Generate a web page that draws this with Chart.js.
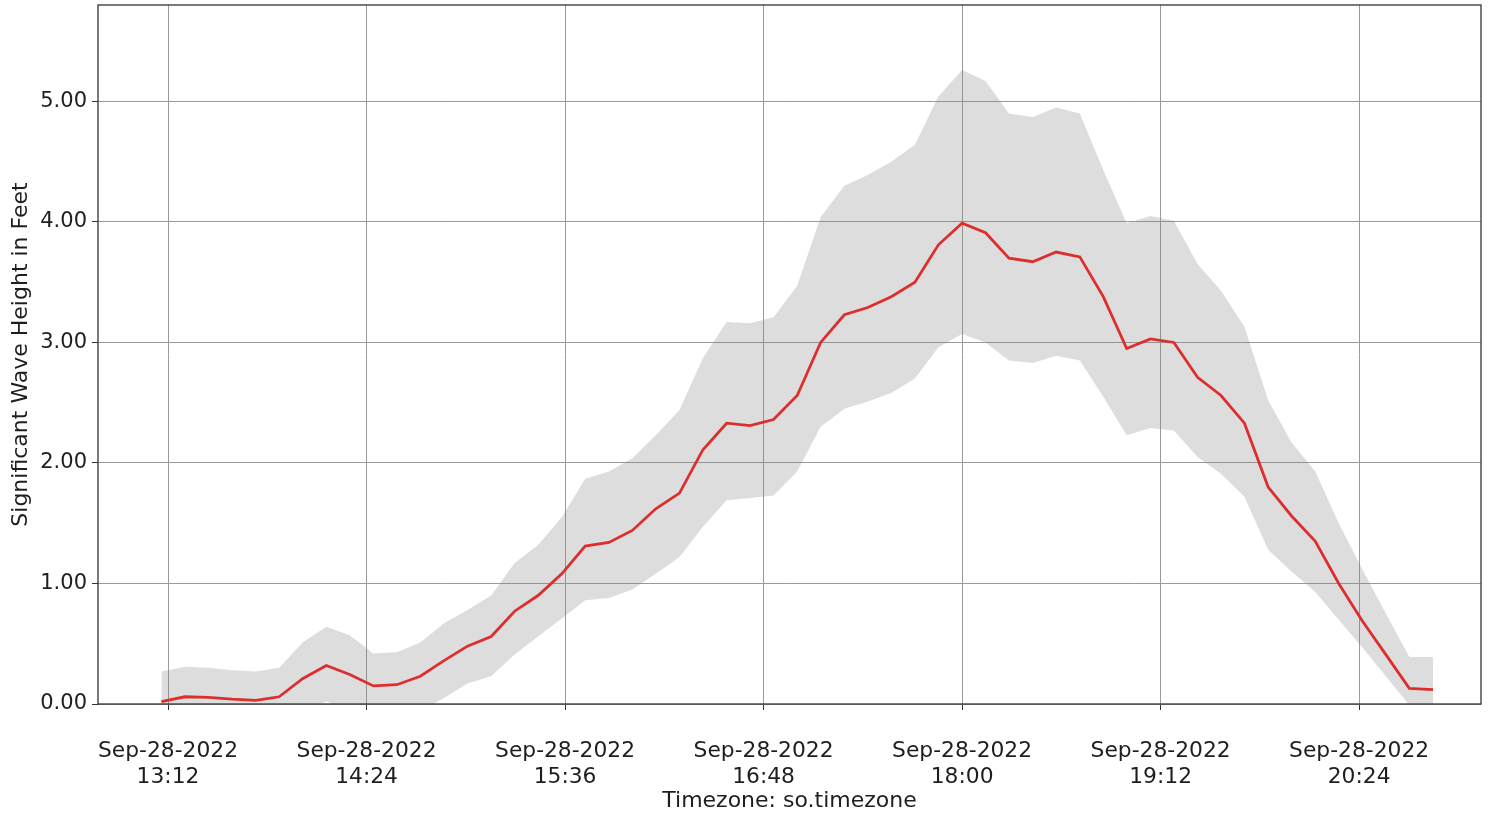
<!DOCTYPE html>
<html>
<head>
<meta charset="utf-8">
<script src="https://cdn.jsdelivr.net/npm/chart.js@4/dist/chart.umd.min.js"></script>
<style>
  html, body { margin: 0; padding: 0; background: #ffffff; }
  #wrap { width: 1498px; height: 814px; position: relative; }
</style>
</head>
<body>
<div id="wrap"><canvas id="c" width="1498" height="814"></canvas></div>
<script>
// Sample times, minutes after midnight on Sep-28-2022
const timesMin = [
  789.6, 798.1, 806.7, 815.2, 823.8, 832.3, 840.8, 849.4, 857.9, 866.5,
  875.0, 883.5, 892.1, 900.6, 909.2, 917.7, 926.2, 934.8, 943.3, 951.9,
  960.4, 968.9, 977.5, 986.0, 994.6, 1003.1, 1011.6, 1020.2, 1028.7, 1037.3,
  1045.8, 1054.3, 1062.9, 1071.4, 1080.0, 1088.5, 1097.0, 1105.6, 1114.1, 1122.7,
  1131.2, 1139.7, 1148.3, 1156.8, 1165.4, 1173.9, 1182.4, 1191.0, 1199.5, 1208.1,
  1216.6, 1225.1, 1233.7, 1242.2, 1250.8
];
// Significant wave height (feet), mean
const meanHeight = [
  0.02, 0.06, 0.055, 0.04, 0.03, 0.06, 0.21, 0.32, 0.245, 0.15,
  0.16, 0.23, 0.36, 0.48, 0.56, 0.77, 0.90, 1.08, 1.31, 1.34,
  1.44, 1.62, 1.75, 2.11, 2.33, 2.31, 2.36, 2.56, 3.00, 3.23,
  3.29, 3.38, 3.50, 3.81, 3.99, 3.91, 3.70, 3.67, 3.75, 3.71,
  3.38, 2.95, 3.03, 3.00, 2.71, 2.56, 2.33, 1.80, 1.56, 1.35,
  1.00, 0.69, 0.41, 0.13, 0.12
];
// Upper edge of the shaded band
const upperHeight = [
  0.27, 0.31, 0.30, 0.28, 0.27, 0.30, 0.51, 0.64, 0.57, 0.42,
  0.43, 0.51, 0.67, 0.78, 0.90, 1.17, 1.32, 1.55, 1.87, 1.93,
  2.04, 2.23, 2.44, 2.87, 3.17, 3.16, 3.21, 3.47, 4.04, 4.30,
  4.39, 4.50, 4.64, 5.04, 5.26, 5.17, 4.90, 4.87, 4.95, 4.90,
  4.43, 3.99, 4.05, 4.01, 3.65, 3.43, 3.13, 2.52, 2.17, 1.93,
  1.50, 1.12, 0.75, 0.39, 0.39
];
// Lower edge of the shaded band
const lowerHeight = [
  -0.20, -0.18, -0.18, -0.20, -0.20, -0.18, -0.05, 0.02, -0.05, -0.12,
  -0.12, -0.06, 0.05, 0.17, 0.23, 0.41, 0.56, 0.71, 0.86, 0.88,
  0.95, 1.08, 1.22, 1.47, 1.69, 1.71, 1.73, 1.93, 2.30, 2.45,
  2.51, 2.58, 2.70, 2.96, 3.07, 3.00, 2.85, 2.83, 2.89, 2.85,
  2.55, 2.23, 2.29, 2.27, 2.05, 1.91, 1.72, 1.28, 1.10, 0.93,
  0.70, 0.47, 0.23, -0.01, -0.15
];
// X tick positions (minutes after midnight) and labels
const xTickValues = [792, 864, 936, 1008, 1080, 1152, 1224];
const xTickDate = 'Sep-28-2022';
const xTickTimes = ['13:12', '14:24', '15:36', '16:48', '18:00', '19:12', '20:24'];
const yTickValues = [0, 1, 2, 3, 4, 5];

const toPts = arr => arr.map((v, i) => ({ x: timesMin[i], y: v }));

const FONT = "'DejaVu Sans', sans-serif";
const TXT = '#1e1e1e';

const framePlugin = {
  id: 'frame',
  afterDraw(chart) {
    const { ctx, chartArea: a } = chart;
    ctx.save();
    ctx.strokeStyle = '#333333';
    ctx.lineWidth = 1.3;
    ctx.strokeRect(a.left, a.top, a.right - a.left, a.bottom - a.top);
    ctx.restore();
  }
};

new Chart(document.getElementById('c'), {
  type: 'line',
  data: {
    datasets: [
      {
        label: 'upper', data: toPts(upperHeight),
        borderWidth: 0, pointRadius: 0, fill: 1,
        backgroundColor: 'rgba(128,128,128,0.27)', borderColor: 'rgba(0,0,0,0)'
      },
      {
        label: 'lower', data: toPts(lowerHeight),
        borderWidth: 0, pointRadius: 0, fill: false, borderColor: 'rgba(0,0,0,0)'
      },
      {
        label: 'mean', data: toPts(meanHeight),
        borderColor: '#ff1010', borderWidth: 2.8, pointRadius: 0, fill: false, tension: 0
      }
    ]
  },
  options: {
    responsive: false,
    animation: false,
    layout: { padding: { top: 5, right: 17, left: 0, bottom: 0 } },
    plugins: { legend: { display: false }, tooltip: { enabled: false } },
    scales: {
      x: {
        type: 'linear',
        min: 766.6,
        max: 1268.2,
        afterBuildTicks: s => { s.ticks = xTickValues.map(v => ({ value: v })); },
        afterFit: s => { s.height = 110; s.paddingLeft = 0; s.paddingRight = 0; },
        grid: { color: '#9a9a9a', lineWidth: 1, tickLength: 6, tickColor: '#333333', drawTicks: true },
        border: { display: false },
        ticks: {
          autoSkip: false, maxRotation: 0, minRotation: 0,
          padding: 28, color: TXT,
          font: { family: FONT, size: 21.8, lineHeight: 1.2 },
          callback: v => {
            const i = xTickValues.indexOf(v);
            return i >= 0 ? [xTickDate, xTickTimes[i]] : '';
          }
        },
        title: {
          display: true, text: 'Timezone: so.timezone', color: TXT,
          font: { family: FONT, size: 22, lineHeight: 1.2 },
          padding: { top: 0, bottom: 0 }
        }
      },
      y: {
        min: 0,
        max: 5.8,
        afterBuildTicks: s => { s.ticks = yTickValues.map(v => ({ value: v })); },
        afterFit: s => { s.width = 98; s.paddingTop = 0; s.paddingBottom = 0; },
        grid: { color: '#9a9a9a', lineWidth: 1, tickLength: 6, tickColor: '#333333', drawTicks: true },
        border: { display: false },
        ticks: {
          padding: 5, color: TXT,
          font: { family: FONT, size: 21 },
          callback: v => Number(v).toFixed(2)
        },
        title: {
          display: true, text: 'Significant Wave Height in Feet', color: TXT,
          font: { family: FONT, size: 22, lineHeight: 1.2 },
          padding: { top: 8, bottom: 0 }
        }
      }
    }
  },
  plugins: [framePlugin]
});
</script>
</body>
</html>
